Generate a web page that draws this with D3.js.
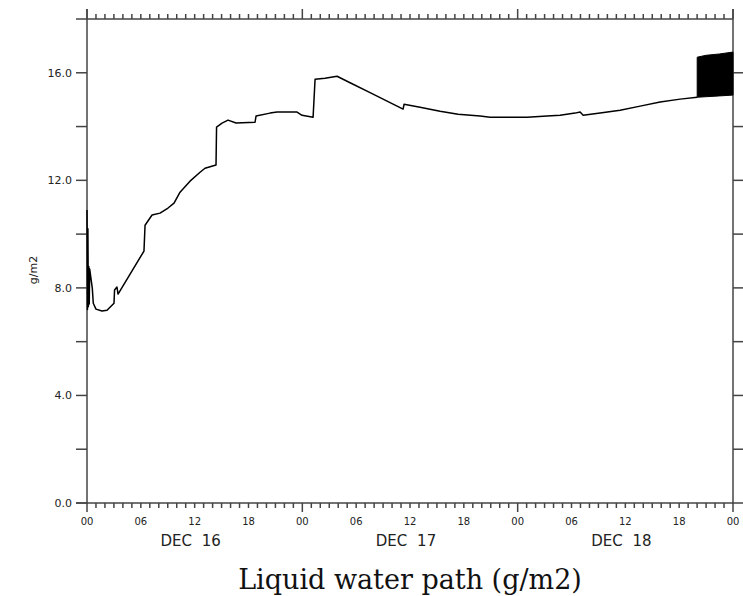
<!DOCTYPE html>
<html>
<head>
<meta charset="utf-8">
<script src="https://cdn.jsdelivr.net/npm/d3@7"></script>
<style>
  html, body { margin: 0; padding: 0; background: #fff; }
  svg { display: block; }
</style>
</head>
<body>
<svg id="chart" width="743" height="596"></svg>
<script>
// Liquid water path time series, hours since 00Z Dec 16
const hours = [0, 0.05, 0.1, 0.15, 0.2, 0.25, 0.3, 0.59, 0.70, 1.0, 1.67, 2.23, 3.01, 3.07, 3.34, 3.46,
  6.35, 6.47, 7.25, 8.14, 9.03, 9.70, 10.37, 11.48, 12.60, 13.15, 14.38, 14.44, 15.05, 15.72,
  16.61, 18.73, 18.84, 20.40, 21.18, 23.41, 23.97, 25.20, 25.42, 26.53, 27.87, 29.32, 31.55,
  33.78, 35.23, 35.34, 37.12, 39.35, 41.36, 43.81, 44.93, 49.05, 51.28, 52.73, 54.40, 54.96,
  55.30, 57.19, 59.42, 61.65, 63.88, 66.11, 68.01];
const lwp = [10.9, 7.2, 10.2, 7.3, 8.8, 7.4, 8.7, 7.99, 7.43, 7.21, 7.14, 7.17, 7.43, 7.92, 8.03, 7.77,
  9.37, 10.33, 10.71, 10.78, 10.97, 11.15, 11.56, 11.97, 12.30, 12.45, 12.57, 13.98, 14.13, 14.24,
  14.13, 14.16, 14.39, 14.50, 14.54, 14.54, 14.42, 14.35, 15.76, 15.80, 15.87, 15.63, 15.26,
  14.89, 14.65, 14.83, 14.72, 14.57, 14.46, 14.39, 14.35, 14.35, 14.39, 14.42, 14.50, 14.54,
  14.42, 14.50, 14.61, 14.76, 14.91, 15.02, 15.09];

// Rapidly oscillating segment at the end: upper and lower envelopes
const bandHours = [68.01, 69.0, 70.5, 72.0];
const bandUpper = [16.58, 16.65, 16.70, 16.77];
const bandLower = [15.09, 15.11, 15.14, 15.17];

const yTicks = [0, 2, 4, 6, 8, 10, 12, 14, 16, 18];
const yLabels = ["0.0", "", "4.0", "", "8.0", "", "12.0", "", "16.0", ""];
const xLabelHours = [0, 6, 12, 18, 24, 30, 36, 42, 48, 54, 60, 66, 72];
const xLabels = ["00", "06", "12", "18", "00", "06", "12", "18", "00", "06", "12", "18", "00"];
const dayHours = [12, 36, 60];
const dayLabels = ["DEC 16", "DEC 17", "DEC 18"];

const svg = d3.select("#chart");
const plotLeft = 87, plotRight = 733, plotTop = 19, plotBottom = 503;
const x = d3.scaleLinear().domain([0, 72]).range([plotLeft, plotRight]);
const y = d3.scaleLinear().domain([0, 18]).range([plotBottom, plotTop]);
const axisColor = "#444";
const labelFont = "DejaVu Sans, Verdana, sans-serif";

// frame lines
const g = svg.append("g").attr("stroke", axisColor).attr("stroke-width", 1.5);
g.append("line").attr("x1", plotLeft).attr("x2", plotLeft).attr("y1", plotTop - 10).attr("y2", plotBottom + 1);
g.append("line").attr("x1", plotRight).attr("x2", plotRight).attr("y1", plotTop - 10).attr("y2", plotBottom + 1);
g.append("line").attr("x1", plotLeft - 11).attr("x2", plotRight).attr("y1", plotTop).attr("y2", plotTop);
g.append("line").attr("x1", plotLeft - 11).attr("x2", plotRight).attr("y1", plotBottom).attr("y2", plotBottom);

// hourly ticks on top and bottom
const hourly = d3.range(0, 73, 1);
g.selectAll("line.tb").data(hourly).join("line").attr("class", "tb")
  .attr("x1", d => x(d)).attr("x2", d => x(d))
  .attr("y1", plotBottom).attr("y2", d => plotBottom + (d % 24 === 0 ? 9 : 5));
g.selectAll("line.tt").data(hourly).join("line").attr("class", "tt")
  .attr("x1", d => x(d)).attr("x2", d => x(d))
  .attr("y1", plotTop).attr("y2", d => plotTop - (d % 24 === 0 ? 10 : 5));

// value ticks, left and right, pointing outward
g.selectAll("line.yl").data(yTicks.filter(d => d < 18)).join("line").attr("class", "yl")
  .attr("x1", plotLeft - 11).attr("x2", plotLeft).attr("y1", d => y(d)).attr("y2", d => y(d));
g.selectAll("line.yr").data(yTicks.filter(d => d < 18)).join("line").attr("class", "yr")
  .attr("x1", plotRight).attr("x2", plotRight + 10).attr("y1", d => y(d)).attr("y2", d => y(d));

// labels
svg.selectAll("text.yl").data(yTicks.map((d, i) => [d, yLabels[i]]).filter(d => d[1]))
  .join("text").attr("class", "yl")
  .attr("x", plotLeft - 15).attr("y", d => y(d[0]) + 4)
  .attr("text-anchor", "end").attr("font-family", labelFont).attr("font-size", 11)
  .attr("fill", "#222").text(d => d[1]);

svg.selectAll("text.xl").data(xLabelHours.map((d, i) => [d, xLabels[i]]))
  .join("text").attr("class", "xl")
  .attr("x", d => x(d[0])).attr("y", 525)
  .attr("text-anchor", "middle").attr("font-family", labelFont).attr("font-size", 10)
  .attr("fill", "#222").text(d => d[1]);

svg.selectAll("text.day").data(dayHours.map((d, i) => [d, dayLabels[i]]))
  .join("text").attr("class", "day")
  .attr("x", d => x(d[0]) - 4).attr("y", 546)
  .attr("text-anchor", "middle").attr("font-family", labelFont).attr("font-size", 15)
  .attr("word-spacing", 5)
  .attr("fill", "#222").text(d => d[1]);

svg.append("text")
  .attr("transform", `translate(37, 270) rotate(-90)`)
  .attr("text-anchor", "middle").attr("font-family", labelFont).attr("font-size", 11)
  .attr("fill", "#222").text("g/m2");

svg.append("text")
  .attr("x", 410).attr("y", 589)
  .attr("text-anchor", "middle").attr("font-family", "DejaVu Serif, serif").attr("font-size", 27)
  .attr("fill", "#111").text("Liquid water path (g/m2)");

// data
const series = hours.map((h, i) => [h, lwp[i]]);
svg.append("path")
  .attr("d", d3.line().x(d => x(d[0])).y(d => y(d[1]))(series))
  .attr("fill", "none").attr("stroke", "#000").attr("stroke-width", 1.5)
  .attr("stroke-linejoin", "round");

const band = bandHours.map((h, i) => [h, bandLower[i], bandUpper[i]]);
svg.append("path")
  .attr("d", d3.area().x(d => x(d[0])).y0(d => y(d[1])).y1(d => y(d[2]))(band))
  .attr("fill", "#000").attr("stroke", "#000").attr("stroke-width", 1);
</script>
</body>
</html>
